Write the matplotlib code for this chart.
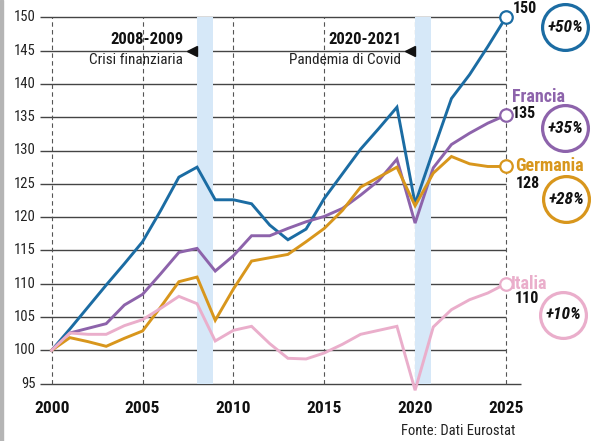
import matplotlib
matplotlib.use("Agg")
import matplotlib.pyplot as plt
import matplotlib.font_manager as fm
from matplotlib.transforms import offset_copy
from matplotlib.patches import Rectangle

# dati (PIL reale, 2000 = 100)
years = list(range(2000, 2026))
countries = ["", "Francia", "Germania", "Italia"]  # nome della prima serie tagliato nell'originale
spagna = [100, 103.2, 106.5, 109.8, 113.0, 116.3, 121.0, 126.0, 127.5, 122.6,
          122.6, 122.0, 118.8, 116.6, 118.2, 122.8, 126.5, 130.2, 133.3, 136.5,
          122.0, 130.0, 137.8, 141.4, 145.6, 150.0]
francia = [100, 102.6, 103.3, 104.0, 106.8, 108.4, 111.5, 114.7, 115.3, 111.9,
           114.2, 117.2, 117.2, 118.3, 119.3, 120.1, 121.3, 123.3, 125.5, 128.7,
           119.1, 127.4, 130.9, 132.6, 134.1, 135.3]
germania = [100, 101.9, 101.3, 100.6, 101.8, 102.9, 106.5, 110.3, 111.0, 104.5,
            109.2, 113.4, 113.9, 114.4, 116.3, 118.3, 121.0, 124.5, 126.0, 127.5,
            121.7, 126.6, 129.1, 128.0, 127.6, 127.6]
italia = [100, 102.6, 102.4, 102.4, 103.7, 104.6, 106.3, 108.1, 107.0, 101.4,
          103.0, 103.6, 101.0, 98.8, 98.7, 99.6, 100.9, 102.4, 103.0, 103.6,
          94.0, 103.5, 106.1, 107.6, 108.6, 110.0]
series = [spagna, francia, germania, italia]

y_ticks = list(range(95, 151, 5))
x_ticks = list(range(2000, 2026, 5))
crises = [(2008, 2008.85, "2008-2009", "Crisi finanziaria"),
          (2020, 2020.9, "2020-2021", "Pandemia di Covid")]

colors = ["#1b6ca3", "#8d63ab", "#d8961c", "#eaaecb"]
# offset (pixel) di nome, valore e cerchio rispetto all'ultimo punto
name_off = [(14, 24), (6, 18), (9, 0), (5, 0)]
val_off = [(7, 9), (6, 2), (10, -17), (9, -15)]
circ_off = [(59, -10), (59, -13), (60, -33), (57, -31)]

# font condensato se disponibile
available = {f.name for f in fm.fontManager.ttflist}
font = "DejaVu Sans"
for cand in ["Roboto Condensed", "Liberation Sans Narrow", "DejaVu Sans Condensed", "Roboto"]:
    if cand in available:
        font = cand
        break
plt.rcParams["font.family"] = [font, "DejaVu Sans"]

W, H = 605, 441
fig = plt.figure(figsize=(W / 100, H / 100), dpi=100)
ax = fig.add_axes([0, 0, 1, 1])
# px = 51.7 + (anno-2000)*18.17 ; py = 17.3 + (150-v)*6.66
ax.set_xlim(2000 - 51.7 / 18.17, 2000 + (W - 51.7) / 18.17)
ax.set_ylim(150 - (H - 17.3) / 6.66, 150 + 17.3 / 6.66)
ax.axis("off")

fig.add_artist(Rectangle((0, 0), 3 / W, 1, transform=fig.transFigure,
                         color="#b5b5b5", zorder=0))

x_left = 2000 - 11.5 / 18.17
# griglia orizzontale
for v in y_ticks:
    x_end = 2025 + 15 / 18.17 if v == y_ticks[0] else 2025
    ax.plot([x_left, x_end], [v, v], color="#444444", lw=1.0, zorder=1,
            solid_capstyle="butt")
    ax.text(x_left - 4.5 / 18.17, v, str(v), ha="right", va="center",
            fontsize=10.5, color="#222222")
# griglia verticale tratteggiata
for yr in x_ticks:
    ax.plot([yr, yr], [y_ticks[0], y_ticks[-1]], color="#555555", lw=0.8,
            ls=(0, (4, 3)), zorder=1)
    ax.text(yr, y_ticks[0] - 25 / 6.66, str(yr), ha="center", va="center",
            fontsize=12.5, fontweight="bold", color="#111111")

# bande di crisi
for x0, x1, period, label in crises:
    ax.fill_between([x0, x1], y_ticks[0], y_ticks[-1], color="#d6e8f8",
                    lw=0, zorder=2)
    tri = offset_copy(ax.transData, fig=fig, x=-5, y=0, units="dots")
    ax.plot([x0], [145], marker="<", ms=6.5, color="#111111", transform=tri,
            zorder=5)
    t1 = offset_copy(ax.transData, fig=fig, x=-14, y=11, units="dots")
    ax.text(x0, 145, period, ha="right", va="center", fontsize=12,
            fontweight="bold", color="#111111", transform=t1)
    t2 = offset_copy(ax.transData, fig=fig, x=-14, y=-9, units="dots")
    ax.text(x0, 145, label, ha="right", va="center", fontsize=11,
            color="#222222", transform=t2)

# serie
for i, (name, vals) in enumerate(zip(countries, series)):
    c = colors[i]
    ax.plot(years, vals, color=c, lw=2.1, zorder=4, solid_joinstyle="miter")
    last = vals[-1]
    ax.plot([years[-1]], [last], marker="o", ms=9, mfc="white", mec=c,
            mew=1.6, zorder=6)
    if name:
        tn = offset_copy(ax.transData, fig=fig, x=name_off[i][0],
                         y=name_off[i][1], units="dots")
        ax.text(years[-1], last, name, ha="left", va="center", fontsize=13,
                fontweight="bold", color=c, transform=tn)
    tv = offset_copy(ax.transData, fig=fig, x=val_off[i][0], y=val_off[i][1],
                     units="dots")
    ax.text(years[-1], last, str(round(last)), ha="left", va="center",
            fontsize=11.5, fontweight="bold", color="#111111", transform=tv)
    tc = offset_copy(ax.transData, fig=fig, x=circ_off[i][0], y=circ_off[i][1],
                     units="dots")
    ax.plot([years[-1]], [last], marker="o", ms=33, mfc="white", mec=c,
            mew=2.3, transform=tc, zorder=6, clip_on=False)
    pct = round((last / vals[0] - 1) * 100)
    ax.text(years[-1], last, f"+{pct}%", ha="center", va="center",
            fontsize=12.5, fontweight="bold", fontstyle="italic", color="#111111",
            transform=tc, zorder=7)

ax.text(2025 + 9 / 18.17, y_ticks[0] - 47 / 6.66, "Fonte: Dati Eurostat",
        ha="right", va="center", fontsize=10.5, color="#222222")

fig.savefig("out.png", dpi=100)
